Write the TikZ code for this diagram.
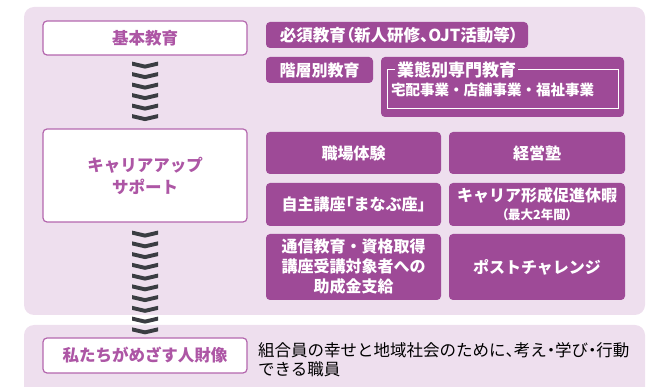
\documentclass[tikz,border=0pt]{standalone}
\usepackage{fontspec}
\setmainfont{Noto Sans CJK JP}
\newfontfamily\paltfont{Noto Sans CJK JP}[RawFeature=+palt]
\newcommand\pq[1]{{\paltfont #1}}
\usetikzlibrary{calc}
\definecolor{panelbg}{HTML}{EEDFEE}
\definecolor{boxpurple}{HTML}{9E4A97}
\definecolor{framepurple}{HTML}{B467AE}
\definecolor{labpurple}{HTML}{AD56A5}
\definecolor{chevcol}{HTML}{3A3D42}
\tikzset{
  panel/.style={fill=panelbg, rounded corners=10pt},
  leftbox/.style={draw=framepurple, line width=1.2pt, fill=white, rounded corners=4pt,
    inner sep=0pt, align=center, text=labpurple, font=\fontsize{16.5}{22}\selectfont\bfseries},
  pbox/.style={fill=boxpurple, rounded corners=4pt, inner sep=0pt, align=center,
    text=white, font=\fontsize{16}{20}\selectfont\bfseries},
  chev/.pic={\fill[chevcol] (-13,0) -- (0,3) -- (13,0) -- (13,4) -- (0,7) -- (-13,4) -- cycle;}
}
\begin{document}
\begin{tikzpicture}[x=1pt,y=-1pt]
\useasboundingbox (0,0) rectangle (662,387);
% panels
\fill[panel] (24,7) rectangle (645,315);
\begin{scope}
\clip (0,0) rectangle (662,387);
\fill[panel] (24,325) rectangle (645,400);
\end{scope}
% left boxes
\node[leftbox, minimum width=204pt, minimum height=34pt] (basic) at (145,38) {基本教育};
\node[leftbox, minimum width=204pt, minimum height=93pt] (career) at (145,175.5) {キャリアアップ\\サポート};
\node[leftbox, minimum width=204pt, minimum height=35pt] (goal) at (145,355.5) {私たちがめざす人財像};
% chevrons
\foreach \i in {0,...,5} \pic at ($(basic.south)+(0,6+10.5*\i)$) {chev};
\foreach \i in {0,...,9} \pic at ($(career.south)+(0,8+10.75*\i)$) {chev};
% top right
\node[pbox, minimum width=262pt, minimum height=26pt, font=\fontsize{16.5}{20}\selectfont\bfseries] (hissu) at (397,35) {\hspace{4pt}必須教育\pq{（}新人研修\pq{、}OJT活動等\pq{）}};
\node[pbox, minimum width=107pt, minimum height=26pt] (kaiso) at (319.5,70) {階層別教育};
\node[pbox, minimum width=243pt, minimum height=60pt] (gyotai) at (502.5,87) {};
\draw[white, line width=0.8pt] ($(gyotai.north west)+(7,13)$) rectangle ($(gyotai.south east)+(-6,-9)$);
\node[fill=boxpurple, inner sep=2pt, anchor=west, text=white,
  font=\fontsize{17}{20}\selectfont\bfseries] (gyotaititle) at ($(gyotai.north west)+(14,13)$) {業態別専門教育};
\node[text=white, inner sep=0pt, font=\fontsize{14.5}{18}\selectfont\bfseries] (gyotaisub) at ($(gyotai.center)+(-10,3)$) {宅配事業・店舗事業・福祉事業};
% grid
\node[pbox, minimum width=175pt, minimum height=42pt] (shokuba) at (353.5,153) {職場体験};
\node[pbox, minimum width=176pt, minimum height=42pt] (keiei) at (537,153) {経営塾};
\node[pbox, minimum width=175pt, minimum height=43pt] (jishu) at (353.5,204.5) {自主講座\pq{「}まなぶ座\pq{」}};
\node[pbox, minimum width=176pt, minimum height=43pt] (kyuka) at (537,204.5) {キャリア形成促進休暇\\[-2pt]{\paltfont\fontsize{12.5}{14}\selectfont（最大2年間）}};
\node[pbox, minimum width=175pt, minimum height=66pt] (tsushin) at (353.5,267) {通信教育・資格取得\\講座受講対象者への\\助成金支給};
\node[pbox, minimum width=176pt, minimum height=66pt] (post) at (537,267) {ポストチャレンジ};
% bottom text
\node[anchor=west, align=left, inner sep=0pt, text=black,
  font=\fontsize{16.5}{19.5}\selectfont] (goaltext) at (258,359.5) {組合員の幸せと地域社会のために\pq{、}考え\pq{・}学び\pq{・}行動\\できる職員};
\end{tikzpicture}
\end{document}
